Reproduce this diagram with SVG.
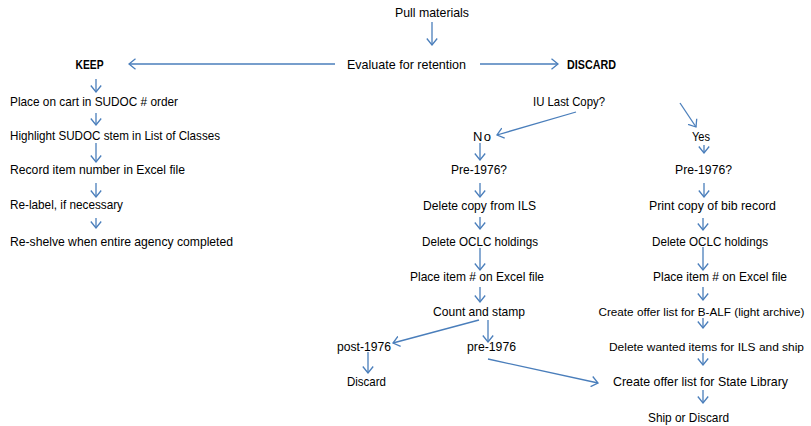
<svg xmlns="http://www.w3.org/2000/svg" width="811" height="426" viewBox="0 0 811 426">
<style>
text{font-family:"Liberation Sans",Arial,sans-serif;font-size:13px;fill:#000}
.m{text-anchor:middle}
.s{font-size:11.6px}
.b{font-weight:bold}
.c{stroke:#4A7EBB;stroke-width:1.3;fill:none;marker-end:url(#ah)}
</style>
<defs>
<marker id="ah" markerUnits="userSpaceOnUse" markerWidth="8" markerHeight="12" viewBox="0 0 8 12" refX="7" refY="6" orient="auto">
<path d="M0.5,0.8 L7,6 L0.5,11.2" fill="none" stroke="#4A7EBB" stroke-width="1.3"/>
</marker>
</defs>
<rect width="811" height="426" fill="#fff"/>
<g id="connectors">
<line class="c" x1="432" y1="22" x2="432" y2="45"/>
<line class="c" x1="480" y1="64" x2="558" y2="64"/>
<line class="c" x1="335" y1="64" x2="129" y2="64"/>
<line class="c" x1="96" y1="79" x2="96" y2="92"/>
<line class="c" x1="96" y1="113" x2="96" y2="125"/>
<line class="c" x1="96" y1="143" x2="96" y2="162"/>
<line class="c" x1="96" y1="183" x2="96" y2="197"/>
<line class="c" x1="96" y1="218" x2="96" y2="228"/>
<line class="c" x1="576" y1="112" x2="497" y2="135"/>
<line class="c" x1="480" y1="143" x2="480" y2="160"/>
<line class="c" x1="480" y1="183" x2="480" y2="197"/>
<line class="c" x1="480" y1="217" x2="480" y2="229"/>
<line class="c" x1="480" y1="248" x2="480" y2="270"/>
<line class="c" x1="480" y1="287" x2="480" y2="302"/>
<line class="c" x1="479" y1="320" x2="393" y2="343"/>
<line class="c" x1="488" y1="320" x2="488" y2="342"/>
<line class="c" x1="368" y1="352" x2="368" y2="373"/>
<line class="c" x1="488" y1="359" x2="598" y2="383"/>
<line class="c" x1="680" y1="103" x2="696" y2="127"/>
<line class="c" x1="704" y1="145" x2="704" y2="153"/>
<line class="c" x1="704" y1="183" x2="704" y2="197"/>
<line class="c" x1="703" y1="218" x2="703" y2="230"/>
<line class="c" x1="703" y1="247" x2="703" y2="270"/>
<line class="c" x1="703" y1="287" x2="703" y2="300"/>
<line class="c" x1="703" y1="318" x2="703" y2="328"/>
<line class="c" x1="703" y1="353" x2="703" y2="365"/>
<line class="c" x1="703" y1="390" x2="703" y2="403"/>
</g>
<g id="pull"><text class="m" x="432" y="17" textLength="74" lengthAdjust="spacingAndGlyphs">Pull materials</text></g>
<g id="evaluate"><text class="m" x="406.5" y="69" textLength="119" lengthAdjust="spacingAndGlyphs">Evaluate for retention</text></g>
<g id="discard-head"><text class="m b" x="591.5" y="69" textLength="49" lengthAdjust="spacingAndGlyphs">DISCARD</text></g>
<g id="keep"><text class="m b" x="89.5" y="69" textLength="28" lengthAdjust="spacingAndGlyphs">KEEP</text></g>
<g id="k1"><text x="10" y="106" textLength="168" lengthAdjust="spacingAndGlyphs">Place on cart in SUDOC # order</text></g>
<g id="k2"><text x="10" y="140" textLength="210" lengthAdjust="spacingAndGlyphs">Highlight SUDOC stem in List of Classes</text></g>
<g id="k3"><text x="10" y="174" textLength="175" lengthAdjust="spacingAndGlyphs">Record item number in Excel file</text></g>
<g id="k4"><text x="10" y="209" textLength="113" lengthAdjust="spacingAndGlyphs">Re-label, if necessary</text></g>
<g id="k5"><text x="10" y="246" textLength="223" lengthAdjust="spacingAndGlyphs">Re-shelve when entire agency completed</text></g>
<g id="lastcopy"><text class="m" x="569" y="106" textLength="72" lengthAdjust="spacingAndGlyphs">IU Last Copy?</text></g>
<g id="no"><text class="m" x="482" y="141" textLength="18" lengthAdjust="spacing">No</text></g>
<g id="n1"><text class="m" x="479" y="174" textLength="56" lengthAdjust="spacingAndGlyphs">Pre-1976?</text></g>
<g id="n2"><text class="m" x="479.5" y="210" textLength="113" lengthAdjust="spacingAndGlyphs">Delete copy from ILS</text></g>
<g id="n3"><text class="m" x="480" y="246" textLength="116" lengthAdjust="spacingAndGlyphs">Delete OCLC holdings</text></g>
<g id="n4"><text class="m" x="477" y="281" textLength="134" lengthAdjust="spacingAndGlyphs">Place item # on Excel file</text></g>
<g id="n5"><text class="m" x="479" y="316" textLength="92" lengthAdjust="spacingAndGlyphs">Count and stamp</text></g>
<g id="post"><text class="m" x="364" y="351" textLength="54" lengthAdjust="spacingAndGlyphs">post-1976</text></g>
<g id="pre"><text class="m" x="491.5" y="351" textLength="49" lengthAdjust="spacingAndGlyphs">pre-1976</text></g>
<g id="discard"><text class="m" x="366.5" y="386" textLength="39" lengthAdjust="spacingAndGlyphs">Discard</text></g>
<g id="yes"><text class="m" x="701" y="141" textLength="18" lengthAdjust="spacingAndGlyphs">Yes</text></g>
<g id="y1"><text class="m" x="703.5" y="174" textLength="57" lengthAdjust="spacingAndGlyphs">Pre-1976?</text></g>
<g id="y2"><text class="m" x="712.5" y="210" textLength="127" lengthAdjust="spacingAndGlyphs">Print copy of bib record</text></g>
<g id="y3"><text class="m" x="710" y="246" textLength="116" lengthAdjust="spacingAndGlyphs">Delete OCLC holdings</text></g>
<g id="y4"><text class="m" x="720" y="281" textLength="134" lengthAdjust="spacingAndGlyphs">Place item # on Excel file</text></g>
<g id="y5"><text class="m s" x="701.5" y="316" textLength="206" lengthAdjust="spacingAndGlyphs">Create offer list for B-ALF (light archive)</text></g>
<g id="y6"><text class="m s" x="706.5" y="351" textLength="195" lengthAdjust="spacingAndGlyphs">Delete wanted items for ILS and ship</text></g>
<g id="y7"><text class="m" x="700.5" y="386" textLength="175" lengthAdjust="spacingAndGlyphs">Create offer list for State Library</text></g>
<g id="y8"><text class="m" x="688.5" y="422" textLength="81" lengthAdjust="spacingAndGlyphs">Ship or Discard</text></g>
</svg>
